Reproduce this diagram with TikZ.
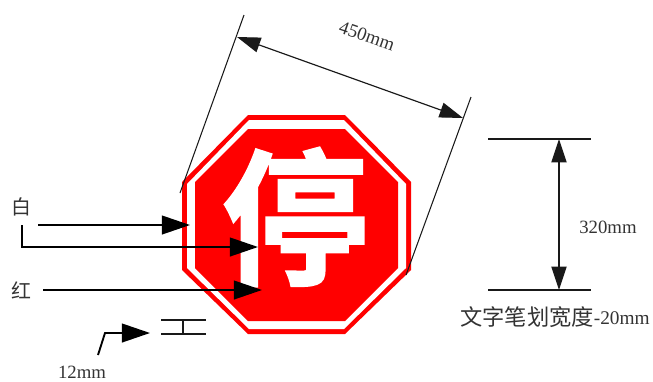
\documentclass[tikz,border=0pt]{standalone}
\usepackage{fontspec}
\setmainfont{Liberation Serif}
\newfontfamily\cjkfont{Noto Sans CJK SC}
\newfontfamily\cjkbold[FakeBold=1]{Noto Sans CJK SC Bold}
\usetikzlibrary{arrows.meta}
\definecolor{signred}{RGB}{255,0,0}
\begin{document}
\begin{tikzpicture}[
            x=0.03cm, y=-0.03cm,
            dimline/.style={draw=black!90, line width=0.9pt},
            dimarrow/.style={draw=black!90, line width=1pt, {Triangle[length=20pt,width=13pt]}-{Triangle[length=20pt,width=13pt]}},
            callout/.style={draw=black, line width=1.6pt, -{Triangle[length=24pt,width=16pt]}},
            label/.style={inner sep=0pt, text=black!80, font=\fontsize{16}{16}\selectfont},
            cjklabel/.style={inner sep=0pt, text=black!80, font=\cjkfont\fontsize{17}{17}\selectfont}
        ]
        \useasboundingbox (0,0) rectangle (653,381);

        % Octagon: red rim, white band, red face
        \fill[signred] (248,115) -- (345,115) -- (411,182) -- (411,270) -- (345,334) -- (248,334) -- (182,270) -- (182,182) -- cycle;
        \fill[white] (249,120) -- (344,120) -- (406,184) -- (406,268) -- (344,329) -- (249,329) -- (187,268) -- (187,184) -- cycle;
        \fill[signred] (248,129) -- (345,129) -- (398,182) -- (398,268) -- (345,321) -- (248,321) -- (195,268) -- (195,182) -- cycle;
        \node[inner sep=0pt, text=white, font=\cjkbold\fontsize{126}{126}\selectfont] (stopchar) at (295,217) {停};

        % Width of the sign
        \draw[dimline] (244,15) coordinate (wa) -- (180,193) coordinate (wb);
        \draw[dimline] (471,97) coordinate (wc) -- (406,275) coordinate (wd);
        \coordinate (wleft) at (237,37);
        \coordinate (wright) at (463,118);
        \draw[dimarrow] (wleft) -- (wright);
        \node[label, rotate=-19] (widthlabel) at (367,36) {450mm};

        % Height of the character
        \coordinate (hta) at (488,139);
        \coordinate (htb) at (591,139);
        \coordinate (hba) at (488,290);
        \coordinate (hbb) at (591,290);
        \coordinate (htop) at (559,139);
        \coordinate (hbot) at (559,290);
        \draw[dimline] (hta) -- (htb);
        \draw[dimline] (hba) -- (hbb);
        \draw[dimarrow] (htop) -- (hbot);
        \node[label] (heightlabel) at (608,227) {320mm};
        \node[cjklabel, font=\cjkfont\fontsize{19}{19}\selectfont] (strokelabel) at (555,317) {文字笔划宽度{\rmfamily\fontsize{16.5}{16.5}\selectfont\raisebox{1.2pt}{-20mm}}};

        % Colour call-outs
        \node[cjklabel] (white) at (21,207) {白};
        \node[cjklabel] (red) at (21,290) {红};
        \coordinate (rimstart) at (38,225);
        \coordinate (rimend) at (190,225);
        \coordinate (charstart) at (22,225);
        \coordinate (charbend) at (22,247);
        \coordinate (charend) at (258,247);
        \coordinate (redstart) at (43,290);
        \coordinate (redend) at (262,290);
        \draw[callout] (rimstart) -- (rimend);
        \draw[callout] (charstart) -- (charbend) -- (charend);
        \draw[callout] (redstart) -- (redend);

        % Rim width mark
        \coordinate (marka) at (161,320);
        \coordinate (markb) at (206,320);
        \coordinate (markc) at (161,334);
        \coordinate (markd) at (206,334);
        \coordinate (marke) at (183,320);
        \coordinate (markf) at (183,334);
        \draw[dimline, line width=1.2pt] (marka) -- (markb);
        \draw[dimline, line width=1.2pt] (markc) -- (markd);
        \draw[dimline, line width=1.2pt] (marke) -- (markf);
        \node[label] (rimlabel) at (82,372) {12mm};
        \coordinate (rimfoot) at (98,355);
        \coordinate (rimbend) at (105,333);
        \coordinate (rimtip) at (150,333);
        \draw[callout] (rimfoot) -- (rimbend) -- (rimtip);
\end{tikzpicture}
\end{document}
